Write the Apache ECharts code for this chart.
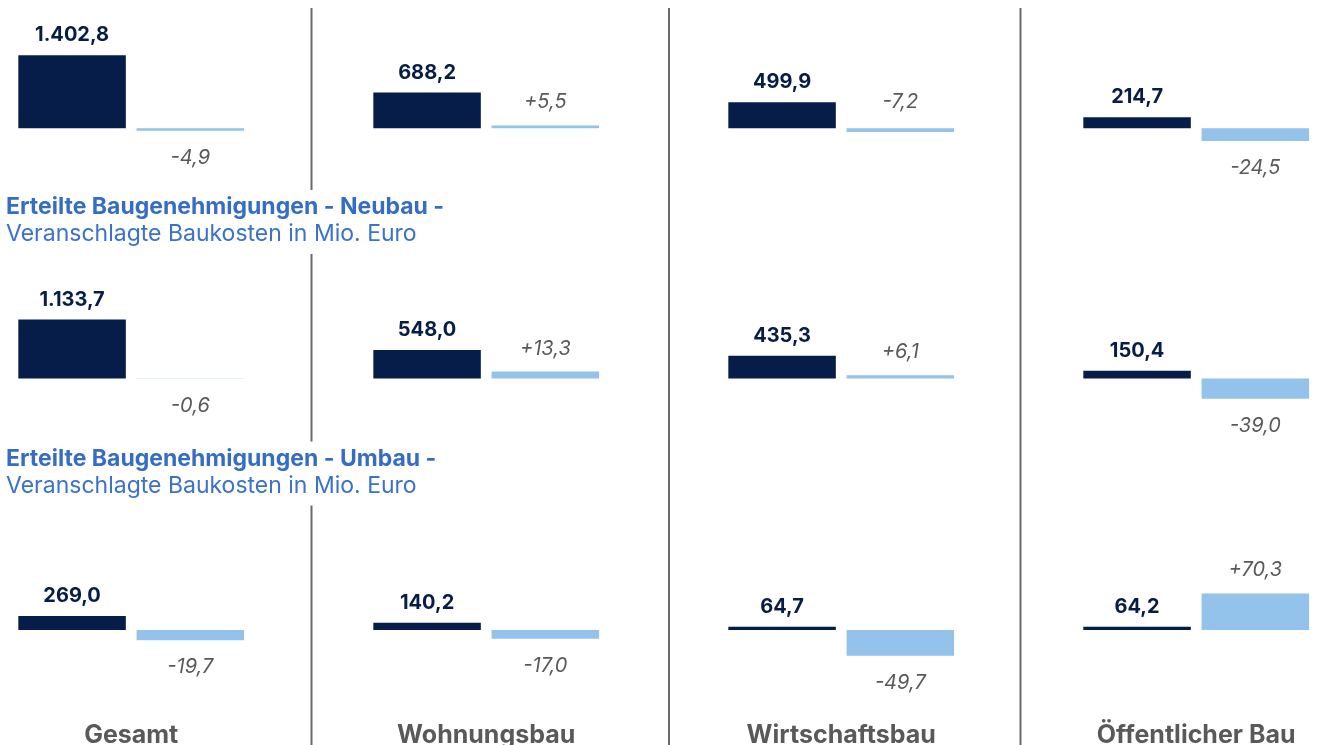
<!DOCTYPE html>
<html>
<head>
<meta charset="utf-8">
<title>Erteilte Baugenehmigungen</title>
<script src="https://cdn.jsdelivr.net/npm/echarts@6/dist/echarts.min.js"></script>
<style>
  html, body { margin: 0; padding: 0; background: #fff; }
  #chart { width: 1319px; height: 745px; }
</style>
</head>
<body>
<div id="chart"></div>
<script>
// Spalten
const categories = ['Gesamt', 'Wohnungsbau', 'Wirtschaftsbau', 'Öffentlicher Bau'];

// Insgesamt (obere Zeile): Mio. Euro und Veränderung in %
const gesamtWerte = [1402.8, 688.2, 499.9, 214.7];
const gesamtAenderung = [-4.9, 5.5, -7.2, -24.5];

// Neubau
const neubauWerte = [1133.7, 548.0, 435.3, 150.4];
const neubauAenderung = [-0.6, 13.3, 6.1, -39.0];

// Umbau
const umbauWerte = [269.0, 140.2, 64.7, 64.2];
const umbauAenderung = [-19.7, -17.0, -49.7, 70.3];

const rowTitles = [
  null,
  ['Erteilte Baugenehmigungen - Neubau -', 'Veranschlagte Baukosten in Mio. Euro'],
  ['Erteilte Baugenehmigungen - Umbau -', 'Veranschlagte Baukosten in Mio. Euro']
];

const rows = [
  { werte: gesamtWerte, aenderung: gesamtAenderung },
  { werte: neubauWerte, aenderung: neubauAenderung },
  { werte: umbauWerte, aenderung: umbauAenderung }
];

// Layout
const FONT = 'Inter, Lato, sans-serif';
const NAVY = '#071d49';
const LIGHT = '#93c2ea';
const GREY = '#595959';
const baselines = [128.3, 378.5, 630];
const yMax = 1750, yMin = -1550, pxPerUnit = 0.052;
const gridHeight = (yMax - yMin) * pxPerUnit;
const band = 355;
const gridLeft = 131.2 - band / 2;
// Ausnahme: Label oberhalb trotz negativem Wert (Zeile, Spalte)
const labelAboveOverride = [[0, 2]];

function fmt(v, signed) {
  const parts = Math.abs(v).toFixed(1).split('.');
  const int = parts[0].replace(/\B(?=(\d{3})+(?!\d))/g, '.');
  const sign = v < 0 ? '-' : (signed ? '+' : '');
  return sign + int + ',' + parts[1];
}

const grids = [], xAxes = [], yAxes = [], series = [], titles = [];

rows.forEach((row, r) => {
  grids.push({
    left: gridLeft,
    width: band * categories.length,
    top: baselines[r] - yMax * pxPerUnit,
    height: gridHeight,
    outerBoundsMode: 'none',
    containLabel: false
  });
  xAxes.push({
    type: 'category',
    gridIndex: r,
    data: categories,
    axisLine: { show: false, onZero: false },
    axisTick: { show: false },
    splitLine: { show: false },
    axisLabel: {
      show: r === rows.length - 1,
      margin: 12,
      fontFamily: FONT,
      fontSize: 25,
      fontWeight: 'bold',
      color: GREY
    }
  });
  yAxes.push(
    { type: 'value', gridIndex: r, min: yMin, max: yMax, show: false, splitLine: { show: false } },
    { type: 'value', gridIndex: r, min: yMin / 10, max: yMax / 10, show: false, splitLine: { show: false } }
  );
  series.push({
    type: 'bar',
    xAxisIndex: r,
    yAxisIndex: 2 * r,
    barWidth: 107.5,
    barGap: '10%',
    itemStyle: { color: NAVY },
    label: {
      show: true,
      position: 'top',
      distance: 10,
      fontFamily: FONT,
      fontSize: 20,
      fontWeight: 'bold',
      color: NAVY,
      formatter: p => fmt(p.value, false)
    },
    data: row.werte
  });
  series.push({
    type: 'bar',
    xAxisIndex: r,
    yAxisIndex: 2 * r + 1,
    barWidth: 107.5,
    barGap: '10%',
    itemStyle: { color: LIGHT },
    label: {
      show: true,
      fontFamily: FONT,
      fontSize: 20,
      fontStyle: 'italic',
      color: GREY,
      formatter: p => fmt(p.value, true)
    },
    data: row.aenderung.map((v, c) => {
      const override = labelAboveOverride.some(o => o[0] === r && o[1] === c);
      let label;
      if (override) label = { position: 'top', distance: 16 };
      else if (v >= 0) label = { position: 'top', distance: 13 };
      else label = { position: 'bottom', distance: 17 };
      return { value: v, label: label };
    })
  });
  if (rowTitles[r]) {
    titles.push({
      text: rowTitles[r][0],
      subtext: rowTitles[r][1],
      left: 0,
      top: baselines[r] - 188.5,
      padding: [4, 8, 6, 6],
      itemGap: 0,
      backgroundColor: '#fff',
      textStyle: { fontFamily: FONT, fontSize: 23, fontWeight: 'bold', color: '#356dc6', lineHeight: 27 },
      subtextStyle: { fontFamily: FONT, fontSize: 23, fontWeight: 'normal', color: '#3b72ca', lineHeight: 27 }
    });
  }
});

const separators = [311.5, 669, 1020.5].map(x => ({
  type: 'line',
  z: 0,
  shape: { x1: x, y1: 8, x2: x, y2: 745 },
  style: { stroke: '#6a6a6a', lineWidth: 2 }
}));

const chart = echarts.init(document.getElementById('chart'));
chart.setOption({
  animation: false,
  backgroundColor: '#fff',
  title: titles,
  grid: grids,
  xAxis: xAxes,
  yAxis: yAxes,
  series: series,
  graphic: separators
});
</script>
</body>
</html>
